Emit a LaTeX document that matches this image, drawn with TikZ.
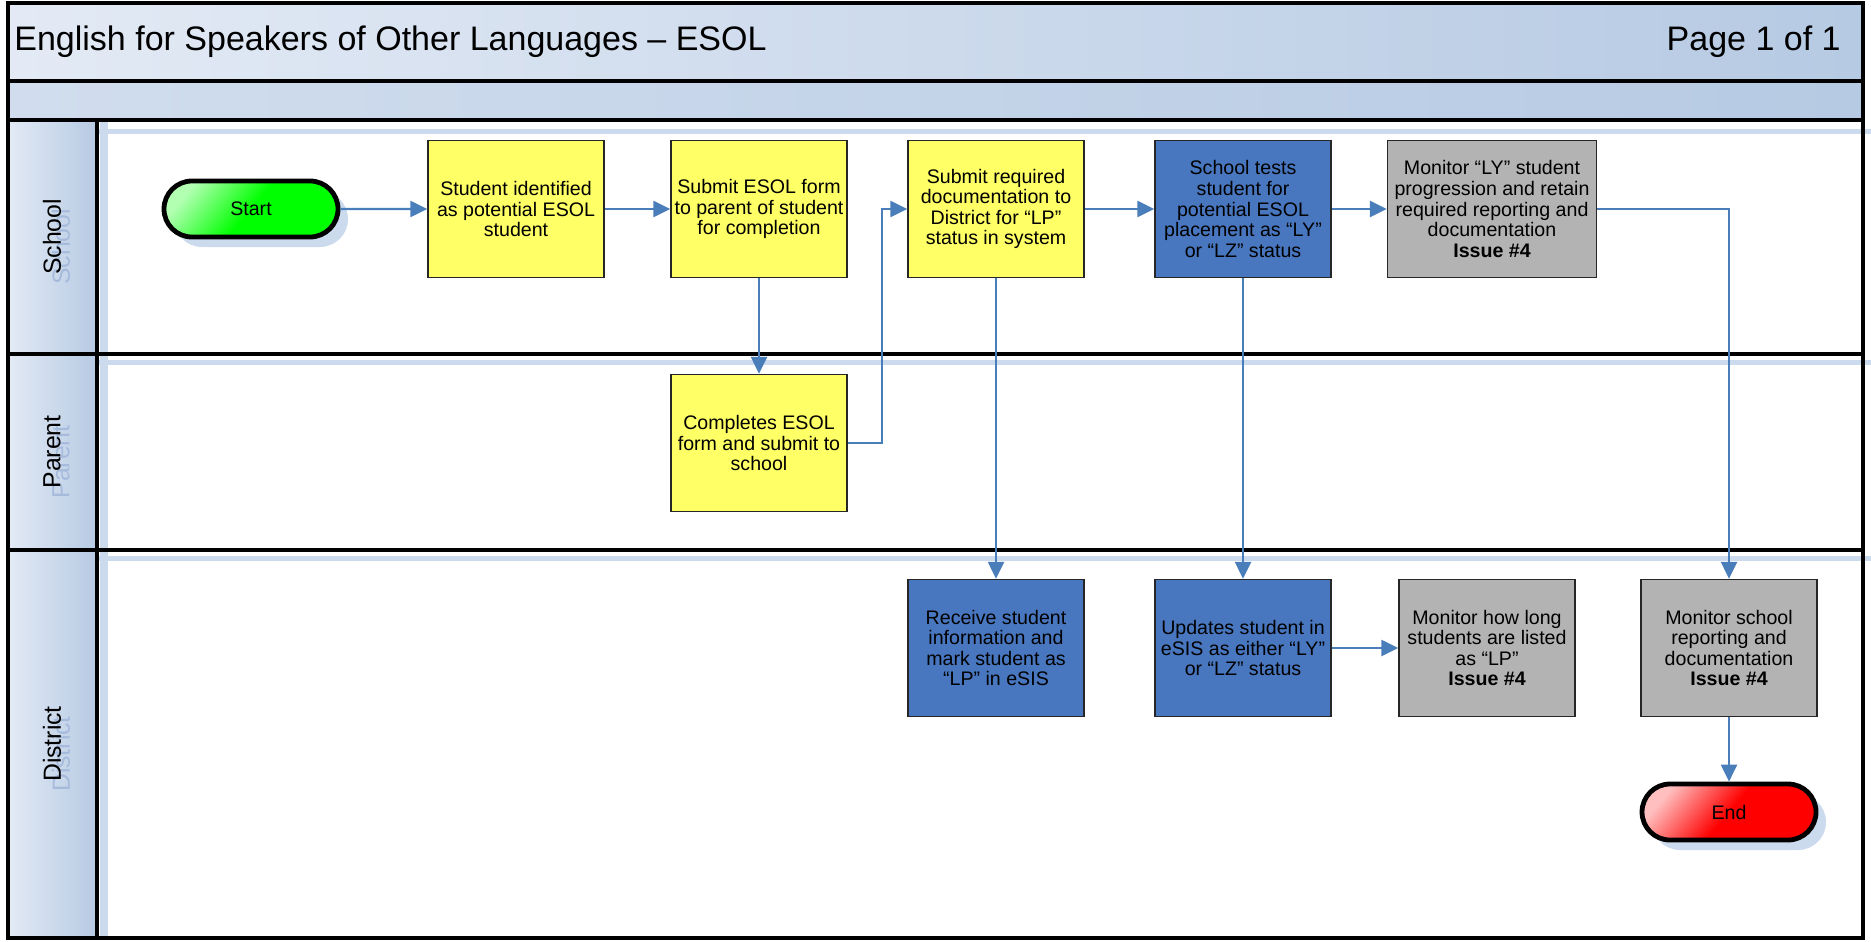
\documentclass[tikz,border=0pt]{standalone}
\usepackage{fontspec}
\setmainfont{Liberation Sans}
\usetikzlibrary{arrows.meta,shapes.misc,shadows}

\definecolor{bandblue}{HTML}{B6CAE3}
\definecolor{bandlight}{HTML}{E3EAF5}
\definecolor{shadowblue}{HTML}{CCDAEE}
\definecolor{ghostblue}{HTML}{A6BBDC}
\definecolor{flowblue}{HTML}{4A7EBB}
\definecolor{esolyellow}{HTML}{FFFF66}
\definecolor{esolblue}{HTML}{4877BF}
\definecolor{esolgray}{HTML}{B3B3B3}

\tikzset{
  task/.style={draw=black!85, line width=0.7pt, fill=esolyellow,
    minimum width=88pt, minimum height=68.5pt, inner sep=0pt,
    align=center, font=\fontsize{9.8}{10.3}\selectfont},
  bluetask/.style={task, fill=esolblue},
  graytask/.style={task, fill=esolgray},
  terminal/.style={rounded rectangle, draw=black, line width=2.4pt,
    minimum width=87pt, minimum height=28pt, inner sep=0pt,
    font=\fontsize{9.8}{10.3}\selectfont,
    drop shadow={shadow xshift=5pt, shadow yshift=-5pt, fill=shadowblue, opacity=1}},
  flow/.style={draw=flowblue, line width=1.2pt, -{Triangle[length=8.5pt,width=8pt]}},
  lanelabel/.style={rotate=90, font=\fontsize{12.4}{14}\selectfont},
  laneline/.style={line width=2.4pt}
}

\begin{document}
\begin{tikzpicture}[x=0.5pt,y=-0.5pt]
  % Page size
  \useasboundingbox (0,0) rectangle (1871,941);
  \fill[white] (0,0) rectangle (1871,941);

  % Title band and the empty band below it
  \shade[left color=bandlight, right color=bandblue] (8,3) rectangle (1863,81);
  \shade[left color=bandlight!60!bandblue, right color=bandblue] (8,81) rectangle (1863,120);
  \node[anchor=west, inner sep=0pt, font=\fontsize{17}{20}\selectfont] (title) at (14,42)
    {English for Speakers of Other Languages – ESOL};
  \node[anchor=east, inner sep=0pt, font=\fontsize{17}{20}\selectfont] (page) at (1841,42) {Page 1 of 1};

  % Lane header column
  \shade[left color=bandlight, right color=bandblue] (8,120) rectangle (97,938);

  % Shadows of the lanes
  \foreach \y in {132,362,558}
    \draw[shadowblue, line width=2.5pt] (97,\y) -- (1871,\y);
  \draw[shadowblue, line width=4pt] (104,122) -- (104,938);

  % Lane names
  \foreach \name/\y in {School/237,Parent/452,District/744} {
    \node[lanelabel, text=ghostblue] at (61,\y+10) {\name};
    \node[lanelabel] (lane-\name) at (52,\y) {\name};
  }

  % Frame and lane borders
  \draw[laneline] (8,3) rectangle (1863,938);
  \foreach \y in {81,120,354,550}
    \draw[laneline] (8,\y) -- (1863,\y);
  \draw[laneline] (97,120) -- (97,938);

  % School lane
  \node[terminal, top color=green!30!white, bottom color=green, middle color=green,
    shading angle=50] (start) at (251,209) {Start};
  \node[task] (identify) at (516,209) {Student identified\\as potential ESOL\\student};
  \node[task] (sendform) at (759,209) {Submit ESOL form\\to parent of student\\for completion};
  \node[task] (submitdoc) at (996,209) {Submit required\\documentation to\\District for “LP”\\status in system};
  \node[bluetask] (tests) at (1243,209) {School tests\\student for\\potential ESOL\\placement as “LY”\\or “LZ” status};
  \node[graytask, minimum width=104.5pt] (monitorly) at (1492,209)
    {Monitor “LY” student\\progression and retain\\required reporting and\\documentation\\\textbf{Issue \#4}};

  % Parent lane
  \node[task] (complete) at (759,443) {Completes ESOL\\form and submit to\\school};

  % District lane
  \node[bluetask] (receive) at (996,648) {Receive student\\information and\\mark student as\\“LP” in eSIS};
  \node[bluetask] (updates) at (1243,648) {Updates student in\\eSIS as either “LY”\\or “LZ” status};
  \node[graytask] (monitorlp) at (1487,648) {Monitor how long\\students are listed\\as “LP”\\\textbf{Issue \#4}};
  \node[graytask] (monitorschool) at (1729,648) {Monitor school\\reporting and\\documentation\\\textbf{Issue \#4}};
  \node[terminal, top color=red!25!white, bottom color=red, middle color=red,
    shading angle=50] (finish) at (1729,812) {End};

  % Connectors
  \draw[flow] (start) -- (identify);
  \draw[flow] (identify) -- (sendform);
  \draw[flow] (sendform) -- (complete);
  \draw[flow] (complete.east) -- ++(34,0) |- (submitdoc.west);
  \draw[flow] (submitdoc) -- (tests);
  \draw[flow] (tests) -- (monitorly);
  \draw[flow] (monitorly.east) -| (monitorschool.north);
  \draw[flow] (submitdoc) -- (receive);
  \draw[flow] (tests) -- (updates);
  \draw[flow] (updates) -- (monitorlp);
  \draw[flow] (monitorschool) -- (finish);
\end{tikzpicture}
\end{document}
